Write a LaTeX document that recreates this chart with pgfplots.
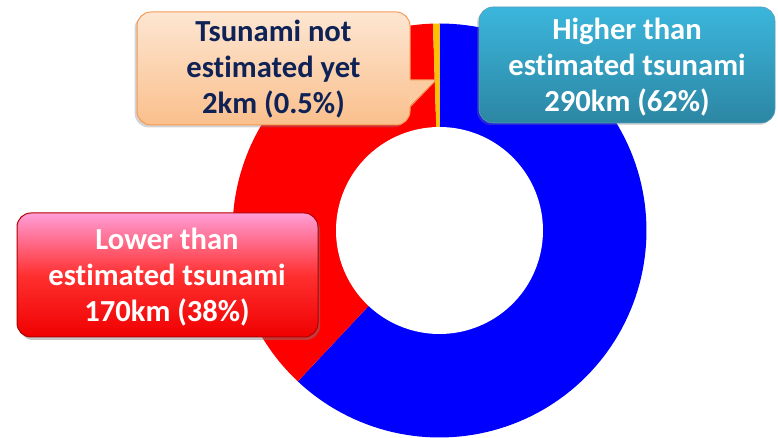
\documentclass[border=0pt]{standalone}
\usepackage{pgfplots}
\pgfplotsset{compat=1.18}
\usepackage{pgfplotstable}
\usepackage{fontspec}
\setmainfont{Carlito}[Ligatures={NoCommon}]
\usetikzlibrary{shadows}

\definecolor{cblue}{HTML}{0000FF}
\definecolor{cred}{HTML}{FF0000}
\definecolor{cyel}{HTML}{FFC000}
\definecolor{navy}{HTML}{0E2255}
\definecolor{peachT}{HTML}{FDE6D2}
\definecolor{peachB}{HTML}{FABF8C}
\definecolor{peachE}{HTML}{F59B55}
\definecolor{tealT}{HTML}{3BB6DC}
\definecolor{tealB}{HTML}{2C86A3}
\definecolor{pinkT}{HTML}{FF9ED8}
\definecolor{redM}{HTML}{FF3030}
\definecolor{redB}{HTML}{F00000}
\definecolor{redE}{HTML}{B00000}

% share of coastline (percent), clockwise from 12 o'clock
\pgfplotstableread{
name share
higher 62
lower 37.5
notyet 0.5
}\slices
\pgfplotstablegetelem{0}{share}\of\slices \let\sA\pgfplotsretval
\pgfplotstablegetelem{1}{share}\of\slices \let\sB\pgfplotsretval
\pgfplotstablegetelem{2}{share}\of\slices \let\sC\pgfplotsretval
\pgfmathsetmacro{\aA}{90-3.6*\sA}
\pgfmathsetmacro{\aB}{\aA-3.6*\sB}
\pgfmathsetmacro{\aC}{\aB-3.6*\sC}

\begin{document}
\begin{tikzpicture}
\begin{axis}[
  x=0.5pt, y=0.5pt,
  xmin=0, xmax=778, ymin=0, ymax=438,
  hide axis, clip=false,
]
\coordinate (BL) at (axis cs:0,0);
\coordinate (TR) at (axis cs:778,438);
% donut slices
\addplot[draw=none, fill=cblue, domain=90:\aA, samples=120, variable=\t]
  ({439.5+207*cos(\t)},{207.5+207*sin(\t)}) -- (axis cs:439.5,207.5) -- cycle;
\addplot[draw=none, fill=cred, domain=\aA:\aB, samples=90, variable=\t]
  ({439.5+207*cos(\t)},{207.5+207*sin(\t)}) -- (axis cs:439.5,207.5) -- cycle;
\addplot[draw=none, fill=cyel, domain=\aB:\aC, samples=5, variable=\t]
  ({439.5+207*cos(\t)},{207.5+207*sin(\t)}) -- (axis cs:439.5,207.5) -- cycle;
% hole
\addplot[draw=none, fill=white, domain=0:360, samples=150, variable=\t]
  ({439.5+103.5*cos(\t)},{207.5+103.5*sin(\t)}) -- cycle;

% callout: not estimated yet
\draw[rounded corners=7pt, draw=peachE, line width=0.5pt, top color=peachT, bottom color=peachB,
  drop shadow={shadow xshift=-1.2pt, shadow yshift=-1.2pt, opacity=0.35}]
  (axis cs:137,426) rectangle (axis cs:410,313);
\fill[color=peachB!70!peachT] (axis cs:409,358) -- (axis cs:436,358) -- (axis cs:409,331) -- cycle;
\draw[draw=peachE, line width=0.5pt] (axis cs:410,358) -- (axis cs:436,358) -- (axis cs:410,331);
\node[align=center, text=navy, font=\fontsize{15.3pt}{18pt}\selectfont\bfseries]
  at (axis cs:273.5,369) {Tsunami not\\estimated yet\\2km (0.5\%)};

% callout: higher
\draw[rounded corners=7pt, draw=tealB!80!white, line width=0.3pt, top color=tealT, bottom color=tealB,
  drop shadow={shadow xshift=-1pt, shadow yshift=-1pt, opacity=0.3}]
  (axis cs:479,431) rectangle (axis cs:775,315);
\node[align=center, text=white, font=\fontsize{15.3pt}{18pt}\selectfont\bfseries]
  at (axis cs:627,371) {Higher than\\estimated tsunami\\290km (62\%)};

% callout: lower
\draw[rounded corners=7pt, draw=redE, line width=0.5pt, top color=pinkT, bottom color=redB, middle color=redM,
  drop shadow={shadow xshift=1pt, shadow yshift=-1.5pt, opacity=0.45}]
  (axis cs:17,225) rectangle (axis cs:318,101);
\node[align=center, text=white, font=\fontsize{15.3pt}{18pt}\selectfont\bfseries]
  at (axis cs:167,161) {Lower than\\estimated tsunami\\170km (38\%)};
\end{axis}
\pgfresetboundingbox
\useasboundingbox (BL) rectangle (TR);
\end{tikzpicture}
\end{document}
